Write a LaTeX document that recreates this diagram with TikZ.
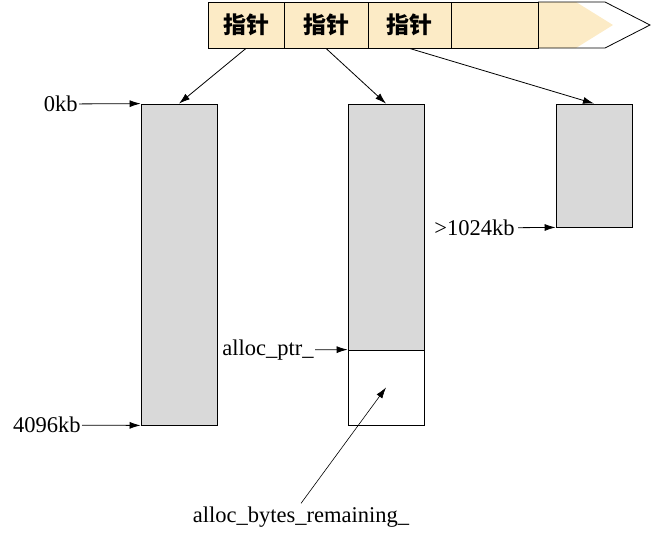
\documentclass[tikz,border=0pt]{standalone}
\usepackage{fontspec}
\setmainfont{Liberation Serif}
\newfontfamily\cjk{Noto Sans CJK SC}
\usetikzlibrary{positioning, calc, arrows.meta}
\definecolor{ptrfill}{HTML}{FCEBC6}
\definecolor{memfill}{HTML}{D9D9D9}
\begin{document}
\begin{tikzpicture}[x=1pt, y=-1pt, >={Latex[length=11pt,width=7pt]}, line width=0.8pt, font=\fontsize{22.5}{26}\selectfont]
			\useasboundingbox (0,0) rectangle (652,542);
			% pointer strip
			\fill [ptrfill] (538,2) -- (576,2) -- (613,25) -- (576,48) -- (538,48) -- cycle;
			\draw (538,2) -- (605,2) -- (650,25) -- (605,48) -- (538,48);
			\node (c1) [draw, fill=ptrfill, minimum width=76pt, minimum height=46pt, font=\cjk\bfseries\fontsize{23}{26}\selectfont] at (246,25) {指针};
			\node (c2) [draw, fill=ptrfill, minimum width=84pt, minimum height=46pt, font=\cjk\bfseries\fontsize{23}{26}\selectfont] at (326,25) {指针};
			\node (c3) [draw, fill=ptrfill, minimum width=83pt, minimum height=46pt, font=\cjk\bfseries\fontsize{23}{26}\selectfont] at (409.5,25) {指针};
			\node (c4) [draw, fill=ptrfill, minimum width=87pt, minimum height=46pt] at (494.5,25) {};
			
			% memory blocks
			\node (b1) [draw, fill=memfill, minimum width=76pt, minimum height=321pt] at (179,264.5) {};
			\node (b2) [draw, fill=memfill, minimum width=76pt, minimum height=246pt] at (386,227) {};
			\node (b2low) [draw, minimum width=76pt, minimum height=75pt] at (386,387.5) {};
			\node (b3) [draw, fill=memfill, minimum width=76pt, minimum height=123pt] at (594,165.5) {};
			
			% labels
			\node (l0) [anchor=east, inner sep=1pt] at (79,104) {0kb};
			\node (l4096) [anchor=east, inner sep=1pt] at (82,425) {4096kb};
			\node (lptr) [anchor=east, inner sep=1pt] at (315,350) {alloc\_ptr\_};
			\node (l1024) [anchor=east, inner sep=3pt] at (518,228) {>1024kb};
			\node (lrem) [inner sep=3pt] at (301,517) {alloc\_bytes\_remaining\_};
			
			\draw [->] (c1.south) -- (b1.north);
			\draw [->] (c2.south) -- (b2.north);
			\draw [->] (c3.south) -- (b3.north);
			\draw [->] (l0) -- (b1.north west);
			\draw [->] (l4096) -- (b1.south west);
			\draw [->] (lptr) -- (b2low.north west);
			\draw [->] (l1024) -- (b3.south west);
			\draw [->, line width=0.6pt] (lrem.north) -- (b2low.center);
		\end{tikzpicture}
\end{document}
